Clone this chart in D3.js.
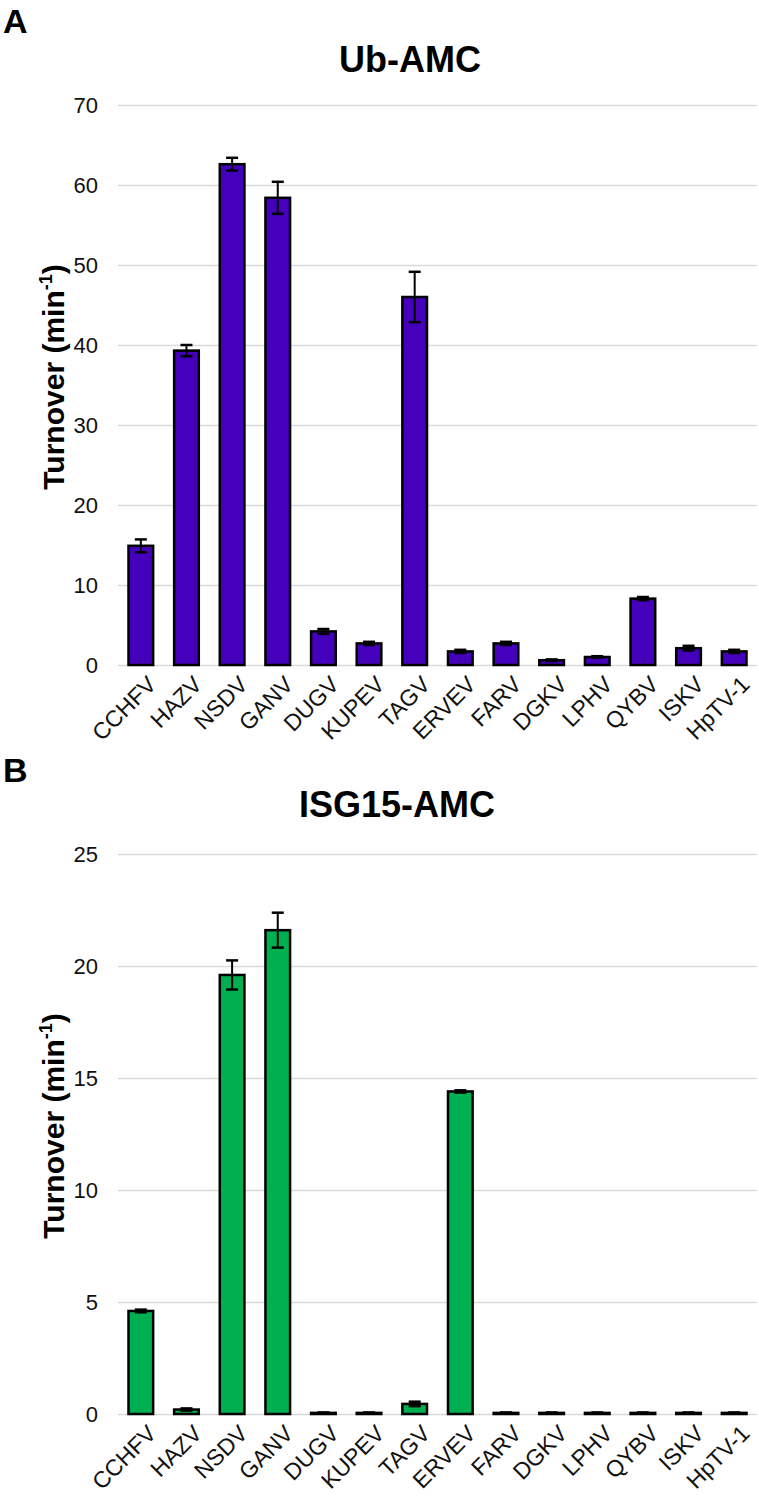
<!DOCTYPE html>
<html>
<head>
<meta charset="utf-8">
<script src="https://cdn.jsdelivr.net/npm/d3@7"></script>
<style>
  html, body { margin: 0; padding: 0; background: #fff; }
  svg { display: block; font-family: "Liberation Sans", Arial, sans-serif; }
</style>
</head>
<body>
<svg id="chart" width="759" height="1499"></svg>
<script>
const categories = ["CCHFV","HAZV","NSDV","GANV","DUGV","KUPEV","TAGV","ERVEV","FARV","DGKV","LPHV","QYBV","ISKV","HpTV-1"];

const ubValues = [14.9, 39.3, 62.6, 58.4, 4.2, 2.7, 46.0, 1.7, 2.7, 0.6, 1.0, 8.3, 2.1, 1.7];
const ubErrors = [0.8, 0.7, 0.8, 2.0, 0.3, 0.2, 3.15, 0.2, 0.2, 0.1, 0.1, 0.2, 0.3, 0.2];
const ubTicks = [0, 10, 20, 30, 40, 50, 60, 70];

const isgValues = [4.6, 0.2, 19.6, 21.6, 0.05, 0.05, 0.45, 14.4, 0.05, 0.05, 0.05, 0.05, 0.05, 0.05];
const isgErrors = [0.06, 0.05, 0.65, 0.78, 0.02, 0.02, 0.1, 0.05, 0.02, 0.02, 0.02, 0.02, 0.02, 0.02];
const isgTicks = [0, 5, 10, 15, 20, 25];

const svg = d3.select("#chart");

function panel(opts) {
  const { values, errors, ticks, yMax, top, bottom, color, title, titleX, titleY, letter, letterY } = opts;
  const x = d3.scaleBand().domain(categories).range([118, 757]).paddingInner(0.46).paddingOuter(0.23);
  const y = d3.scaleLinear().domain([0, yMax]).range([bottom, top]);
  const g = svg.append("g");

  // gridlines
  const yAxis = d3.axisLeft(y).tickValues(ticks).tickSize(-(757 - 118)).tickPadding(20).tickFormat(d3.format("d"));
  const ya = g.append("g").attr("transform", "translate(118,0)").call(yAxis);
  ya.select(".domain").remove();
  ya.selectAll(".tick line").attr("stroke", "#d9d9d9").attr("stroke-width", 1.5);
  ya.selectAll(".tick text").attr("font-size", 22).attr("fill", "#111").attr("x", -20);

  // bars
  g.selectAll("rect.bar").data(categories).enter().append("rect")
    .attr("class", "bar")
    .attr("x", d => x(d))
    .attr("width", x.bandwidth())
    .attr("y", (d, i) => y(values[i]))
    .attr("height", (d, i) => y(0) - y(values[i]))
    .attr("fill", color)
    .attr("stroke", "#000")
    .attr("stroke-width", 2.5);

  // error bars
  const eb = g.selectAll("g.err").data(categories).enter().append("g").attr("class", "err");
  const cx = d => x(d) + x.bandwidth() / 2;
  const capW = 6;
  eb.append("line")
    .attr("x1", cx).attr("x2", cx)
    .attr("y1", (d, i) => y(values[i] + errors[i]))
    .attr("y2", (d, i) => y(Math.max(0, values[i] - errors[i])))
    .attr("stroke", "#000").attr("stroke-width", 2);
  eb.append("line")
    .attr("x1", d => cx(d) - capW).attr("x2", d => cx(d) + capW)
    .attr("y1", (d, i) => y(values[i] + errors[i]))
    .attr("y2", (d, i) => y(values[i] + errors[i]))
    .attr("stroke", "#000").attr("stroke-width", 2.5);
  eb.append("line")
    .attr("x1", d => cx(d) - capW).attr("x2", d => cx(d) + capW)
    .attr("y1", (d, i) => y(Math.max(0, values[i] - errors[i])))
    .attr("y2", (d, i) => y(Math.max(0, values[i] - errors[i])))
    .attr("stroke", "#000").attr("stroke-width", 2.5);

  // x axis labels
  const xAxis = d3.axisBottom(x).tickSize(0).tickPadding(0);
  const xa = g.append("g").attr("transform", `translate(0,${bottom})`).call(xAxis);
  xa.select(".domain").remove();
  xa.selectAll(".tick text")
    .attr("font-size", 23)
    .attr("fill", "#111")
    .attr("text-anchor", "end")
    .attr("dy", 0)
    .attr("y", 0)
    .attr("transform", "translate(5,9) rotate(-45)")
    .attr("dominant-baseline", "hanging");

  // title
  g.append("text").attr("x", titleX).attr("y", titleY).attr("text-anchor", "middle")
    .attr("font-size", 36).attr("font-weight", "bold").attr("fill", "#000").text(title);

  // panel letter
  g.append("text").attr("x", 3).attr("y", letterY)
    .attr("font-size", 34).attr("font-weight", "bold").attr("fill", "#000").text(letter);

  // y title
  const yt = g.append("text")
    .attr("transform", `translate(64,${(top + bottom) / 2 - 8}) rotate(-90)`)
    .attr("text-anchor", "middle")
    .attr("font-size", 30).attr("font-weight", "bold").attr("fill", "#000");
  yt.append("tspan").text("Turnover (min");
  yt.append("tspan").attr("font-size", 18).attr("dy", -12).text("-1");
  yt.append("tspan").attr("dy", 12).text(")");
}

panel({ values: ubValues, errors: ubErrors, ticks: ubTicks, yMax: 70, top: 105, bottom: 665,
        color: "#4400bb", title: "Ub-AMC", titleX: 410, titleY: 72, letter: "A", letterY: 33 });
panel({ values: isgValues, errors: isgErrors, ticks: isgTicks, yMax: 25, top: 854, bottom: 1414,
        color: "#00b050", title: "ISG15-AMC", titleX: 397, titleY: 817, letter: "B", letterY: 782 });
</script>
</body>
</html>
